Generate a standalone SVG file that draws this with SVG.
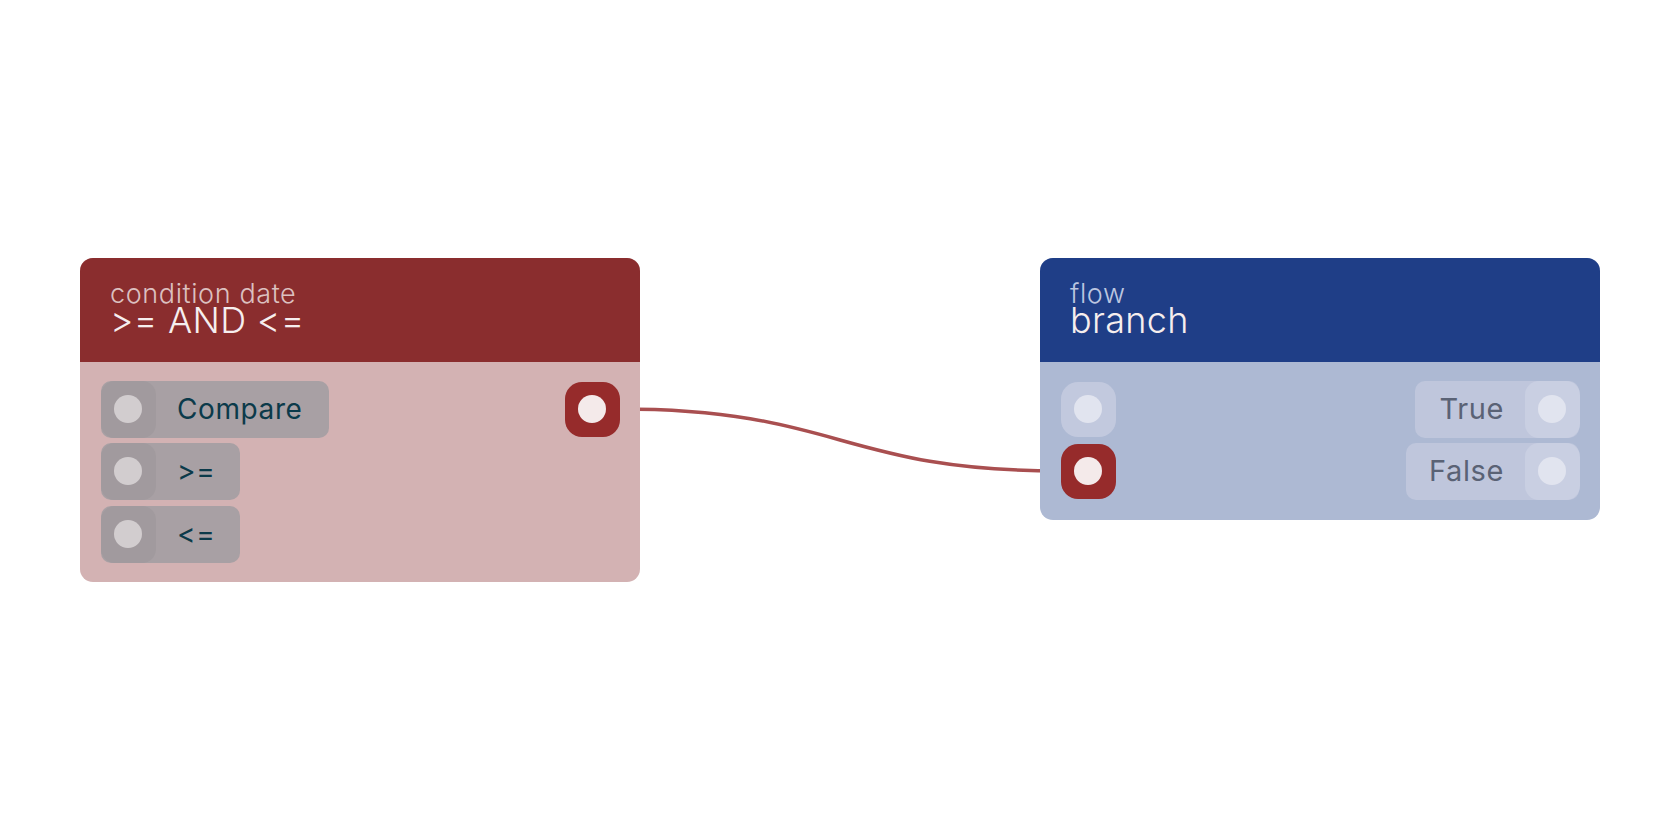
<svg xmlns="http://www.w3.org/2000/svg" width="1680" height="840" viewBox="0 0 1680 840">
<style>
text{font-family:Inter,"Noto Sans",sans-serif}
.sub{font-size:27px;font-weight:300;letter-spacing:0.6px}
.ttl{font-size:36px;fill:#f6eeee;font-weight:300;letter-spacing:0.3px}
.lbl{font-size:28px;fill:#0b3a4a;letter-spacing:0.6px}
.lbl2{font-size:29px;fill:#5a6275;letter-spacing:0.6px}
</style>
<rect width="1680" height="840" fill="#fff"/>
<g id="connectors">
<path d="M619,409 C840,409 840,471 1061,471" fill="none" stroke="#a94f50" stroke-width="3.5"/>
</g>
<g id="node-condition">
<rect x="80" y="258" width="560" height="324" rx="13" fill="#d3b2b3"/>
<path d="M80,362 V271 a13,13 0 0 1 13,-13 H627 a13,13 0 0 1 13,13 V362 Z" fill="#8a2d2e"/>
<text x="110" y="303" class="sub" fill="#dcc0c0">condition date</text>
<text x="110" y="333" class="ttl">&gt;= AND &lt;=</text>
<rect x="101" y="381" width="228" height="57" rx="10" fill="#a8a0a4"/>
<rect x="101" y="381" width="55" height="57" rx="14" fill="#a19a9e"/>
<circle cx="128" cy="409" r="14" fill="#d2cdcf"/>
<text x="177" y="419" class="lbl">Compare</text>
<rect x="101" y="443" width="139" height="57" rx="10" fill="#a8a0a4"/>
<rect x="101" y="443" width="55" height="57" rx="14" fill="#a19a9e"/>
<circle cx="128" cy="471" r="14" fill="#d2cdcf"/>
<text x="177" y="481" class="lbl">&gt;=</text>
<rect x="101" y="506" width="139" height="57" rx="10" fill="#a8a0a4"/>
<rect x="101" y="506" width="55" height="57" rx="14" fill="#a19a9e"/>
<circle cx="128" cy="534" r="14" fill="#d2cdcf"/>
<text x="177" y="544" class="lbl">&lt;=</text>
<rect x="565" y="382" width="55" height="55" rx="17" fill="#962b2b"/>
<circle cx="592" cy="409" r="14" fill="#f4eaea"/>
</g>
<g id="node-branch">
<rect x="1040" y="258" width="560" height="262" rx="13" fill="#adb9d3"/>
<path d="M1040,362 V271 a13,13 0 0 1 13,-13 H1587 a13,13 0 0 1 13,13 V362 Z" fill="#1f3e87"/>
<text x="1070" y="303" class="sub" fill="#bcc6e0">flow</text>
<text x="1070" y="333" class="ttl">branch</text>
<rect x="1061" y="382" width="55" height="55" rx="17" fill="#c2c9de"/>
<circle cx="1088" cy="409" r="14" fill="#e1e4ef"/>
<rect x="1061" y="444" width="55" height="55" rx="17" fill="#962b2b"/>
<circle cx="1088" cy="471" r="14" fill="#f4eaea"/>
<rect x="1415" y="381" width="164" height="57" rx="10" fill="#bfc6dc"/>
<rect x="1525" y="381" width="55" height="57" rx="14" fill="#c9cfe2"/>
<circle cx="1552" cy="409" r="14" fill="#e1e4ef"/>
<text x="1504" y="419" class="lbl2" text-anchor="end">True</text>
<rect x="1406" y="443" width="173" height="57" rx="10" fill="#bfc6dc"/>
<rect x="1525" y="443" width="55" height="57" rx="14" fill="#c9cfe2"/>
<circle cx="1552" cy="471" r="14" fill="#e1e4ef"/>
<text x="1504" y="481" class="lbl2" text-anchor="end">False</text>
</g>
</svg>
